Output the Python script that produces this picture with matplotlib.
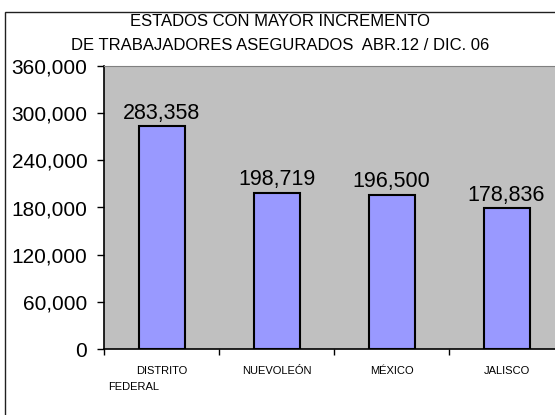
import matplotlib
matplotlib.use("Agg")
import matplotlib.pyplot as plt
from matplotlib.patches import Rectangle
from matplotlib.ticker import FuncFormatter, FixedLocator

plt.rcParams['font.family'] = ['Liberation Sans', 'DejaVu Sans']

# data
states = ['DISTRITO', 'NUEVOLEÓN', 'MÉXICO', 'JALISCO']
workers = [283358, 198719, 196500, 178836]
y_ticks = [0, 60000, 120000, 180000, 240000, 300000, 360000]
title_lines = ['ESTADOS CON MAYOR INCREMENTO',
               'DE TRABAJADORES ASEGURADOS  ABR.12 / DIC. 06']

fig = plt.figure(figsize=(5.55, 4.15), dpi=100)
W, H = 555, 415

# outer chart frame (right and bottom edges fall outside the image)
fig.patches.append(Rectangle((5 / W, -0.1), 1.2, 1.1 - 12 / H,
                             transform=fig.transFigure, fill=False,
                             edgecolor='#202020', linewidth=1.0))

ax = fig.add_axes([104 / W, 1 - 349 / H, (564 - 104) / W, (349 - 66) / H])
ax.set_facecolor('#C0C0C0')

x = range(len(states))
ax.bar(x, workers, width=0.4, color='#9999FF', edgecolor='black',
       linewidth=1.5, zorder=3)

for xi, v in zip(x, workers):
    ax.annotate(f'{v:,}', (xi, v), xytext=(0, 9.5), textcoords='offset points',
                ha='center', va='center', fontsize=15.5)

ax.set_xlim(-0.5, len(states) - 0.5)
ax.set_ylim(0, 360000)
ax.set_yticks(y_ticks)
ax.yaxis.set_major_formatter(FuncFormatter(lambda v, p: f'{int(v):,}'))
ax.tick_params(axis='y', labelsize=15, length=5, width=1, pad=7, direction='out')

ax.set_xticks(list(x))
ax.set_xticklabels(states, fontsize=8)
ax.tick_params(axis='x', which='major', length=0, pad=12)
ax.xaxis.set_minor_locator(FixedLocator([i - 0.5 for i in range(len(states) + 1)]))
ax.tick_params(axis='x', which='minor', length=4, width=1, direction='out')

# second line of the first label sits further left, as in the original
ax.text(-0.245, -0.135, 'FEDERAL', transform=ax.get_xaxis_transform(),
        ha='center', va='center', fontsize=8)

for side in ['left', 'bottom']:
    ax.spines[side].set_color('black')
    ax.spines[side].set_linewidth(1.2)
ax.spines['top'].set_color('#808080')
ax.spines['right'].set_visible(False)

fig.text(0.505, 1 - 22 / H, title_lines[0], ha='center', va='center', fontsize=12)
fig.text(0.505, 1 - 46 / H, title_lines[1], ha='center', va='center', fontsize=12)

fig.savefig('out.png', dpi=100)
